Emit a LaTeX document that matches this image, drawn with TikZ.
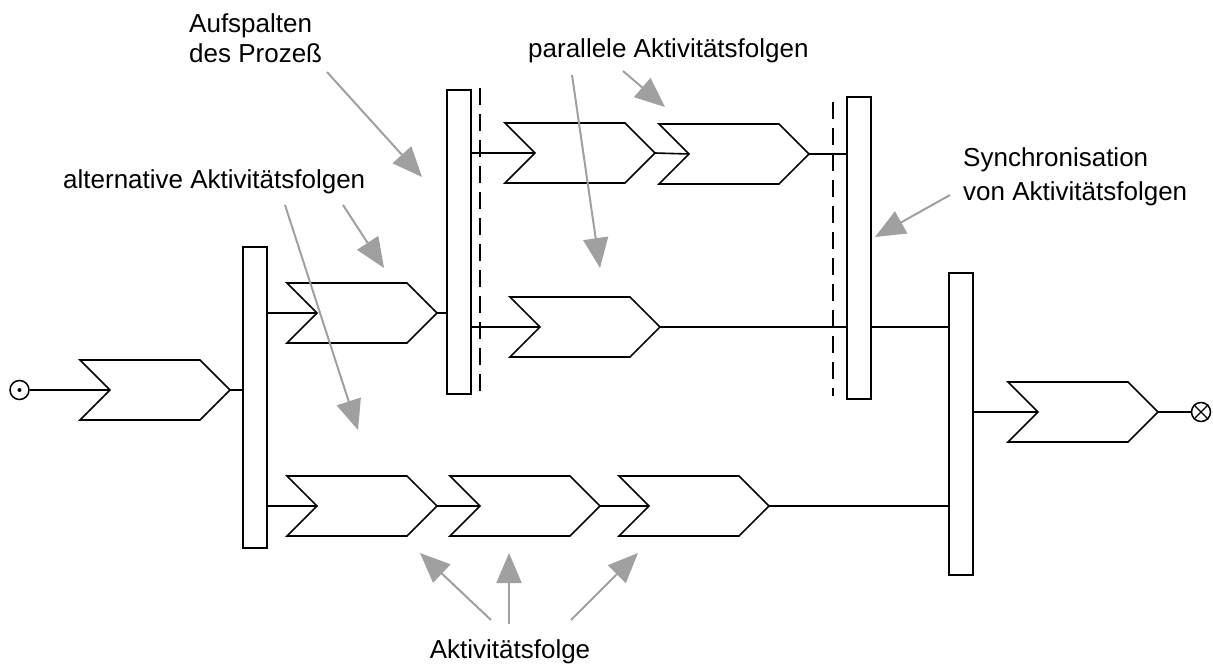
\documentclass[tikz,border=0pt]{standalone}
\usepackage{fontspec}
\setmainfont{Liberation Sans}
\usetikzlibrary{arrows.meta}
\definecolor{pointergray}{RGB}{160,160,160}
\begin{document}
\begin{tikzpicture}[x=1pt,y=-1pt,
  flow/.style={line width=1.6pt},
  bar/.style={draw, line width=1.6pt, minimum width=24pt, inner sep=0pt, anchor=north west},
  dashline/.style={line width=1.6pt, dash pattern=on 17pt off 9pt},
  pointer/.style={draw=pointergray, line width=2pt, -{Triangle[length=30pt,width=25pt]}},
  note/.style={font=\fontsize{26}{31}\selectfont, inner sep=0pt, anchor=base west},
  endpoint/.style={draw, circle, line width=1.5pt, minimum size=19pt, inner sep=0pt},
  chev/.pic={
    \draw[flow] (0,0) -- (120,0) -- (150,30) -- (120,60) -- (0,60) -- (30,30) -- cycle;
    \coordinate (-in) at (30,30);
    \coordinate (-out) at (150,30);
  }
]
\useasboundingbox (0,0) rectangle (1213,667);

% activities
\pic (c1) at (80,360) {chev};
\pic (c2) at (287,283) {chev};
\pic (c3) at (287,476) {chev};
\pic (c4) at (450,476) {chev};
\pic (c5) at (619,476) {chev};
\pic (c6) at (505,123) {chev};
\pic (c7) at (659,124) {chev};
\pic (c8) at (510,297) {chev};
\pic (c9) at (1008,382) {chev};

% split and join bars
\node[bar, minimum height=301pt] (b1) at (242,246) {};
\node[bar, minimum height=304pt] (b2) at (446,89) {};
\node[bar, minimum height=302pt] (b4) at (846,96) {};
\node[bar, minimum height=302pt] (b3) at (948,272) {};

% parallel markers
\coordinate (d1t) at (480,88);
\coordinate (d1b) at (480,396);
\coordinate (d2t) at (833,102);
\coordinate (d2b) at (833,396);
\draw[dashline] (d1t) -- (d1b);
\draw[dashline] (d2t) -- (d2b);

% start and end
\node[endpoint] (start) at (19.5,390) {};
\fill (start.center) circle (2pt);
\node[endpoint] (stop) at (1201,412) {};
\draw[line width=1.3pt] (stop.45) -- (stop.225) (stop.135) -- (stop.315);

% flow connections
\draw[flow] (start) -- (c1-in);
\draw[flow] (c1-out) -- (c1-out -| b1.west);
\draw[flow] (b1.east |- c2-in) -- (c2-in);
\draw[flow] (b1.east |- c3-in) -- (c3-in);
\draw[flow] (c2-out) -- (c2-out -| b2.west);
\draw[flow] (b2.east |- c6-in) -- (c6-in);
\draw[flow] (b2.east |- c8-in) -- (c8-in);
\draw[flow] (c6-out) -- (c7-in);
\draw[flow] (c7-out) -- (c7-out -| b4.west);
\draw[flow] (c8-out) -- (c8-out -| b4.west);
\draw[flow] (b4.east |- c8-out) -- (c8-out -| b3.west);
\draw[flow] (c3-out) -- (c4-in);
\draw[flow] (c4-out) -- (c5-in);
\draw[flow] (c5-out) -- (c5-out -| b3.west);
\draw[flow] (b3.east |- c9-in) -- (c9-in);
\draw[flow] (c9-out) -- (stop);

% captions
\node[note] (tAuf1) at (189,32) {Aufspalten};
\node[note] (tAuf2) at (189,62) {des Prozeß};
\node[note] (tAlt) at (63,188) {alternative Aktivitätsfolgen};
\node[note] (tPar) at (528,57) {parallele Aktivitätsfolgen};
\node[note] (tSyn1) at (963,166) {Synchronisation};
\node[note] (tSyn2) at (963,200) {von Aktivitätsfolgen};
\node[note, anchor=base] (tAkt) at (510,658) {Aktivitätsfolge};

% pointers
\coordinate (p1s) at (327,72);  \coordinate (p1e) at (422,177);
\coordinate (p2s) at (285,205); \coordinate (p2e) at (358,430);
\coordinate (p3s) at (343,205); \coordinate (p3e) at (384,268);
\coordinate (p4s) at (572,75);  \coordinate (p4e) at (600,268);
\coordinate (p5s) at (623,71);  \coordinate (p5e) at (665,107);
\coordinate (p6s) at (950,195); \coordinate (p6e) at (875,237);
\coordinate (p7s) at (491,620); \coordinate (p7e) at (420,553);
\coordinate (p8s) at (509,624); \coordinate (p8e) at (509,553);
\coordinate (p9s) at (571,620); \coordinate (p9e) at (638,553);
\foreach \i in {1,...,9} {
  \draw[pointer] (p\i s) -- (p\i e);
}
\end{tikzpicture}
\end{document}
